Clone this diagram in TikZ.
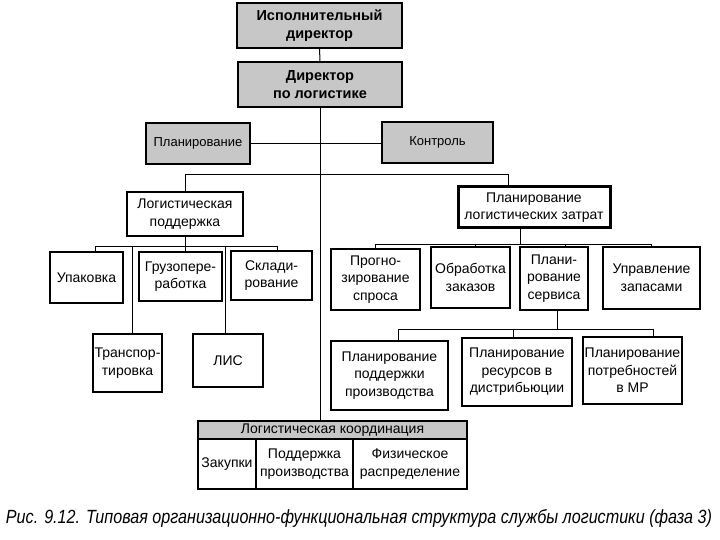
\documentclass[tikz,border=0pt]{standalone}
\usepackage{fontspec}
\usepackage{graphicx}
\setmainfont{Liberation Sans}
\tikzset{
  box/.style={draw, line width=1.2pt, inner sep=0pt, align=center, font=\fontsize{14}{17.5}\selectfont},
  thickbox/.style={box, line width=2.6pt},
  graybox/.style={box, fill=black!22},
  topbox/.style={graybox, line width=2pt, font=\bfseries\fontsize{14.5}{18}\selectfont},
  conn/.style={line width=1pt},
}
\begin{document}
\begin{tikzpicture}[x=1pt,y=-1pt]
\useasboundingbox (0,0) rectangle (720,540);
% top
\node[topbox, minimum width=165pt, minimum height=45pt] (exec) at (319.5,25.5) {Исполнительный\\директор};
\node[topbox, minimum width=164pt, minimum height=45pt] (dir) at (320,84.5) {Директор\\по логистике};
\node[graybox, font=\fontsize{13}{16}\selectfont, minimum width=104pt, minimum height=41pt] (plan) at (198,143.5) {Планирование};
\node[graybox, font=\fontsize{13}{16}\selectfont, minimum width=111pt, minimum height=41pt] (ctrl) at (437.5,142.5) {Контроль};
% second level
\node[thickbox, minimum width=116pt, minimum height=44pt] (lsup) at (185,214) {Логистическая\\поддержка};
\node[thickbox, line width=3pt, minimum width=152pt, minimum height=41pt] (lcost) at (534,207.5) {Планирование\\логистических затрат};
% left group
\node[box, minimum width=73pt, minimum height=51pt] (upak) at (86.5,277.5) {Упаковка};
\node[box, minimum width=83pt, minimum height=49pt] (gruz) at (180.5,276.5) {Грузопере-\\работка};
\node[box, minimum width=81pt, minimum height=49pt] (sklad) at (271.5,275.5) {Склади-\\рование};
\node[box, minimum width=69pt, minimum height=58pt] (trans) at (127.5,363) {Транспор-\\тировка};
\node[box, minimum width=70pt, minimum height=53pt] (lis) at (228,360.5) {ЛИС};
% right group
\node[box, minimum width=89pt, minimum height=61pt] (prog) at (375.5,279.5) {Прогно-\\зирование\\спроса};
\node[box, minimum width=79pt, minimum height=61pt] (obr) at (470.5,277.5) {Обработка\\заказов};
\node[box, minimum width=68pt, minimum height=63pt] (serv) at (554,278.5) {Плани-\\рование\\сервиса};
\node[box, minimum width=97pt, minimum height=62pt] (zap) at (651.5,278) {Управление\\запасами};
\node[box, minimum width=117pt, minimum height=69pt] (pp) at (389.5,375.5) {Планирование\\поддержки\\производства};
\node[box, minimum width=110pt, minimum height=68pt] (pr) at (517,372) {Планирование\\ресурсов в\\дистрибьюции};
\node[box, minimum width=99pt, minimum height=67pt] (pm) at (632.5,370.5) {Планирование\\потребностей\\в МР};
% coordination
\node[graybox, minimum width=269pt, minimum height=18pt] (coordh) at (332.5,430) {Логистическая координация};
\node[box, minimum width=58pt, minimum height=50pt] (zak) at (227,464) {Закупки};
\node[box, minimum width=97pt, minimum height=50pt] (podd) at (304.5,464) {Поддержка\\производства};
\node[box, minimum width=114pt, minimum height=50pt] (fiz) at (410,464) {Физическое\\распределение};
% caption
\node[inner sep=0pt] (cap) at (359,518) {\resizebox{706pt}{14pt}{\itshape Рис. 9.12. Типовая организационно-функциональная структура службы логистики (фаза 3)}};
% connectors
\draw[conn] (exec) -- (dir);
\draw[conn] (dir.south) -- (dir.south |- coordh.north);
\draw[conn] (plan.east) -- (plan.east -| ctrl.west);
\coordinate (lc1) at ([xshift=-26pt]lcost.north);
\draw[conn] (lsup.north) -- ++(0,-16) -| (lc1);
% left bus
\coordinate (lbus) at ([yshift=-9pt]lsup.south);
\coordinate (u1) at ([xshift=8.5pt]upak.north);
\coordinate (s1) at ([xshift=5.5pt]sklad.north);
\coordinate (t1) at ([xshift=4.5pt]trans.north);
\coordinate (l1) at ([xshift=-3pt]lis.north);
\draw[conn] (lsup.south) -- (lbus);
\draw[conn] (u1) |- (lbus) -| (s1);
\draw[conn] (t1) -- (t1 |- lbus);
\draw[conn] (l1) -- (l1 |- lbus);
\draw[conn] (lbus) -- (lbus |- gruz.north);
% right bus
\coordinate (lc2) at ([xshift=-14pt]lcost.south);
\coordinate (rbus) at ([yshift=-15pt]lc2);
\coordinate (o1) at ([xshift=4.5pt]obr.north);
\coordinate (v1) at ([xshift=11pt]serv.north);
\draw[conn] (lc2) -- (rbus);
\draw[conn] (prog.north) |- (rbus) -| (zap.north);
\draw[conn] (o1) -- (o1 |- rbus);
\draw[conn] (v1) -- (v1 |- rbus);
% service bus
\coordinate (sv2) at ([xshift=3pt]serv.south);
\coordinate (sbus) at ([yshift=-19pt]sv2);
\coordinate (p1) at ([xshift=8.5pt]pp.north);
\coordinate (p2) at ([xshift=-4pt]pr.north);
\coordinate (p3) at ([xshift=20.5pt]pm.north);
\draw[conn] (sv2) -- (sbus);
\draw[conn] (p1) |- (sbus) -| (p3);
\draw[conn] (p2) -- (p2 |- sbus);
\end{tikzpicture}
\end{document}
